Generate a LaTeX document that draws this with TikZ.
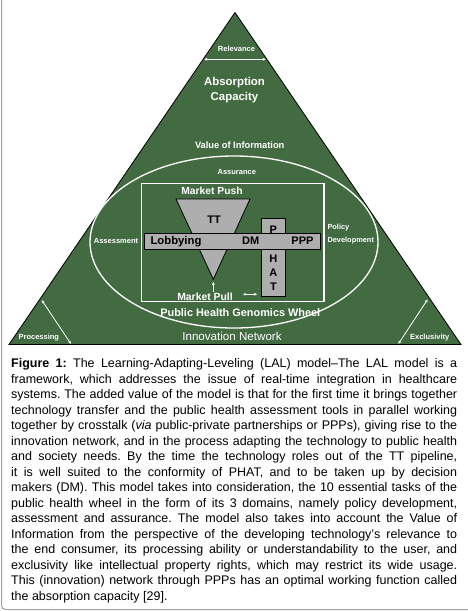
\documentclass[tikz,border=0pt]{standalone}
\usepackage{fontspec}
\setmainfont{Liberation Sans}
\usepackage{xcolor}
\usepackage{tikz}
\usetikzlibrary{arrows.meta,positioning}
\definecolor{lalGreen}{HTML}{436B41}
\definecolor{lalGrey}{HTML}{AEAEAE}
\definecolor{lalFrame}{HTML}{A0A0A0}
\newcommand{\lalfont}[1]{\bfseries\fontsize{#1}{#1}\selectfont}
\frenchspacing

\begin{document}
\begin{tikzpicture}[x=1pt, y=-1pt,
        lbl/.style={text=white, inner sep=0pt, font=\lalfont{7.5}},
        blk/.style={text=black, inner sep=0pt, font=\lalfont{11}},
        shade/.style={draw=black, fill=lalGrey, line width=0.8pt, inner sep=0pt},
        wht/.style={draw=white, line width=1.3pt},
        arr/.style={{Latex[length=3pt,width=3pt]}-{Latex[length=3pt,width=3pt]}, white, line width=0.8pt},
    ]
        \useasboundingbox (0,0) rectangle (467,611);
        \draw[lalFrame, line width=1pt, rounded corners=4pt] (1.5,-5) -- (1.5,609.5) -- (475,609.5);

        \coordinate (apex) at (235,12.5);
        \coordinate (bl) at (9,344.5);
        \coordinate (br) at (461,344.5);
        \draw[fill=lalGreen, line width=0.8pt] (apex) -- (bl) -- (br) -- cycle;

        \node[lbl] (rel) at (236.5,48.5) {Relevance};
        \coordinate (relL) at (204,59.3);
        \coordinate (relR) at (266,59.3);
        \draw[arr] (relL) -- (relR);

        \node[lbl, align=center, font=\bfseries\fontsize{11.4}{14.6}\selectfont] (absorb) at (234.5,90) {Absorption\\Capacity};
        \node[lbl, font=\lalfont{9.3}] (voi) at (239.7,145) {Value of Information};

        \draw[wht] (234,242) ellipse [x radius=144pt, y radius=86pt];
        \node[lbl] (assur) at (236.8,172) {Assurance};
        \node[lbl] (assess) at (116,240.7) {Assessment};
        \node[lbl, anchor=west, align=left, font=\bfseries\fontsize{7.4}{13.4}\selectfont] (policy) at (327.3,234) {Policy\\Development};

        \draw[wht] (141.7,183.3) rectangle (324,301.7);
        \node[lbl, font=\lalfont{10.3}] (push) at (212,190.7) {Market Push};

        \coordinate (ttL) at (176,199);
        \coordinate (ttR) at (250,199);
        \coordinate (ttTip) at (213.3,279.3);
        \draw[shade] (ttL) -- (ttR) -- (ttTip) -- cycle;
        \node[blk] (tt) at (214,220) {TT};

        \node[shade, minimum width=23.3pt, minimum height=78pt] (phat) at (273.4,257) {};
        \node[blk] (p) at (273.4,229.5) {P};
        \node[blk] (h) at (273.4,259) {H};
        \node[blk] (a) at (273.4,272.5) {A};
        \node[blk] (t) at (273.4,286.3) {T};

        \node[shade, minimum width=176pt, minimum height=15.7pt] (bar) at (232,241.2) {};
        \node[blk, font=\lalfont{11.3}] (lob) at (176,241.2) {Lobbying};
        \node[blk] (dm) at (250.8,241.2) {DM};
        \node[blk] (ppp) at (302.5,241.2) {PPP};

        \node[lbl, font=\lalfont{10.4}] (pull) at (205,297) {Market Pull};
        \coordinate (pullTail) at (213.3,292);
        \draw[-{Latex[length=3pt,width=3pt]}, white, line width=0.8pt] (pullTail) -- ([yshift=-2.5pt]ttTip);
        \coordinate (xL) at (242.7,294.3);
        \coordinate (xR) at (257.3,294.3);
        \draw[arr, line width=1.2pt] (xL) -- (xR);

        \node[lbl, font=\lalfont{10.9}] (wheel) at (240.3,312.3) {Public Health Genomics Wheel};
        \node[lbl, font=\fontsize{11.6}{11.6}\selectfont] (net) at (232,336.7) {Innovation Network};

        \node[lbl] (proc) at (38.8,337.3) {Processing};
        \coordinate (procT) at (41.7,300);
        \coordinate (procB) at (71,344);
        \draw[arr] (procT) -- (procB);
        \node[lbl] (excl) at (429.7,337.3) {Exclusivity};
        \coordinate (exclT) at (427.7,299.3);
        \coordinate (exclB) at (398.3,344);
        \draw[arr] (exclT) -- (exclB);

        \node[anchor=north west, text width=446pt, align=justify, inner sep=0pt,
              font=\fontsize{12.5}{15.5}\selectfont] (caption) at (11,358.5)
        {\textbf{Figure 1:} The Learning-Adapting-Leveling (LAL) model–The LAL model is a\linebreak
        framework, which addresses the issue of real-time integration in healthcare\linebreak
        systems. The added value of the model is that for the first time it brings together\linebreak
        technology transfer and the public health assessment tools in parallel working\linebreak
        together by crosstalk (\textit{via} public-private partnerships or PPPs), giving rise to the\linebreak
        innovation network, and in the process adapting the technology to public health\linebreak
        and society needs. By the time the technology roles out of the TT pipeline,\linebreak
        it is well suited to the conformity of PHAT, and to be taken up by decision\linebreak
        makers (DM). This model takes into consideration, the 10 essential tasks of the\linebreak
        public health wheel in the form of its 3 domains, namely policy development,\linebreak
        assessment and assurance. The model also takes into account the Value of\linebreak
        Information from the perspective of the developing technology’s relevance to\linebreak
        the end consumer, its processing ability or understandability to the user, and\linebreak
        exclusivity like intellectual property rights, which may restrict its wide usage.\linebreak
        This (innovation) network through PPPs has an optimal working function called\linebreak
        the absorption capacity [29].};
    \end{tikzpicture}
\end{document}
